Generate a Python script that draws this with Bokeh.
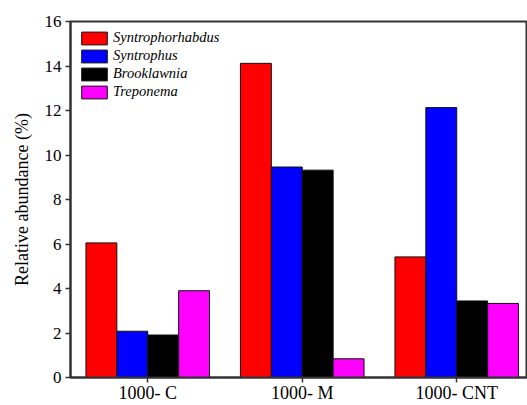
from bokeh.plotting import figure
from bokeh.models import Range1d, FixedTicker, ColumnDataSource, Legend, LegendItem
from bokeh.embed import file_html
from bokeh.resources import INLINE

categories = ["1000- C", "1000- M", "1000- CNT"]
genera = ["Syntrophorhabdus", "Syntrophus", "Brooklawnia", "Treponema"]
colors = ["#ff0000", "#0000ff", "#000000", "#ff00ff"]
syntrophorhabdus = [6.05, 14.12, 5.42]
syntrophus = [2.08, 9.46, 12.13]
brooklawnia = [1.91, 9.32, 3.44]
treponema = [3.90, 0.84, 3.33]
series = [syntrophorhabdus, syntrophus, brooklawnia, treponema]
y_ticks = [0, 2, 4, 6, 8, 10, 12, 14, 16]

FONT = "Liberation Serif"

p = figure(width=527, height=405, output_backend="svg", toolbar_location=None,
           x_range=Range1d(0, 2.958), y_range=Range1d(0, 16),
           min_border_left=70, min_border_right=0, min_border_top=21, min_border_bottom=0)
p.outline_line_color = "#333333"
p.outline_line_width = 2
p.grid.visible = False
p.background_fill_color = "white"
p.border_fill_color = "white"

centers = [i + 0.5 for i in range(len(categories))]
bar_w = 0.2
items = []
for j, (name, vals, col) in enumerate(zip(genera, series, colors)):
    xs = [c + (j - 1.5) * bar_w for c in centers]
    src = ColumnDataSource(dict(x=xs, top=vals))
    r = p.vbar(x="x", top="top", width=bar_w, bottom=0, source=src,
               fill_color=col, line_color="#111111", line_width=1)
    items.append(LegendItem(label=name, renderers=[r]))

legend = Legend(items=items, location="top_left", margin=8, padding=0,
                border_line_color=None, background_fill_alpha=0,
                glyph_width=32, glyph_height=16, label_height=16, spacing=1,
                label_standoff=3, label_text_font=FONT, label_text_font_style="italic",
                label_text_font_size="14.5px", label_text_color="black")
p.add_layout(legend)

xa = p.xaxis[0]
xa.ticker = FixedTicker(ticks=centers)
xa.major_label_overrides = {c: lab for c, lab in zip(centers, categories)}
xa.major_label_text_font = FONT
xa.major_label_text_font_size = "18px"
xa.major_label_text_color = "black"
xa.major_label_standoff = 0
xa.major_tick_out = 5
xa.major_tick_in = 0
xa.minor_tick_line_color = None
xa.axis_line_width = 2
xa.axis_line_color = "#333333"
xa.major_tick_line_color = "#333333"
xa.major_tick_line_width = 1.5

ya = p.yaxis[0]
ya.ticker = FixedTicker(ticks=y_ticks)
ya.axis_label = "Relative abundance (%)"
ya.axis_label_text_font = FONT
ya.axis_label_text_font_style = "normal"
ya.axis_label_text_font_size = "18px"
ya.axis_label_text_color = "black"
ya.axis_label_standoff = 10
ya.major_label_text_font = FONT
ya.major_label_text_font_size = "17px"
ya.major_label_text_color = "black"
ya.major_label_standoff = 4
ya.major_tick_out = 5
ya.major_tick_in = 0
ya.minor_tick_line_color = None
ya.axis_line_width = 2
ya.axis_line_color = "#333333"
ya.major_tick_line_color = "#333333"
ya.major_tick_line_width = 1.5

open("out.html", "w").write(file_html(p, INLINE))
